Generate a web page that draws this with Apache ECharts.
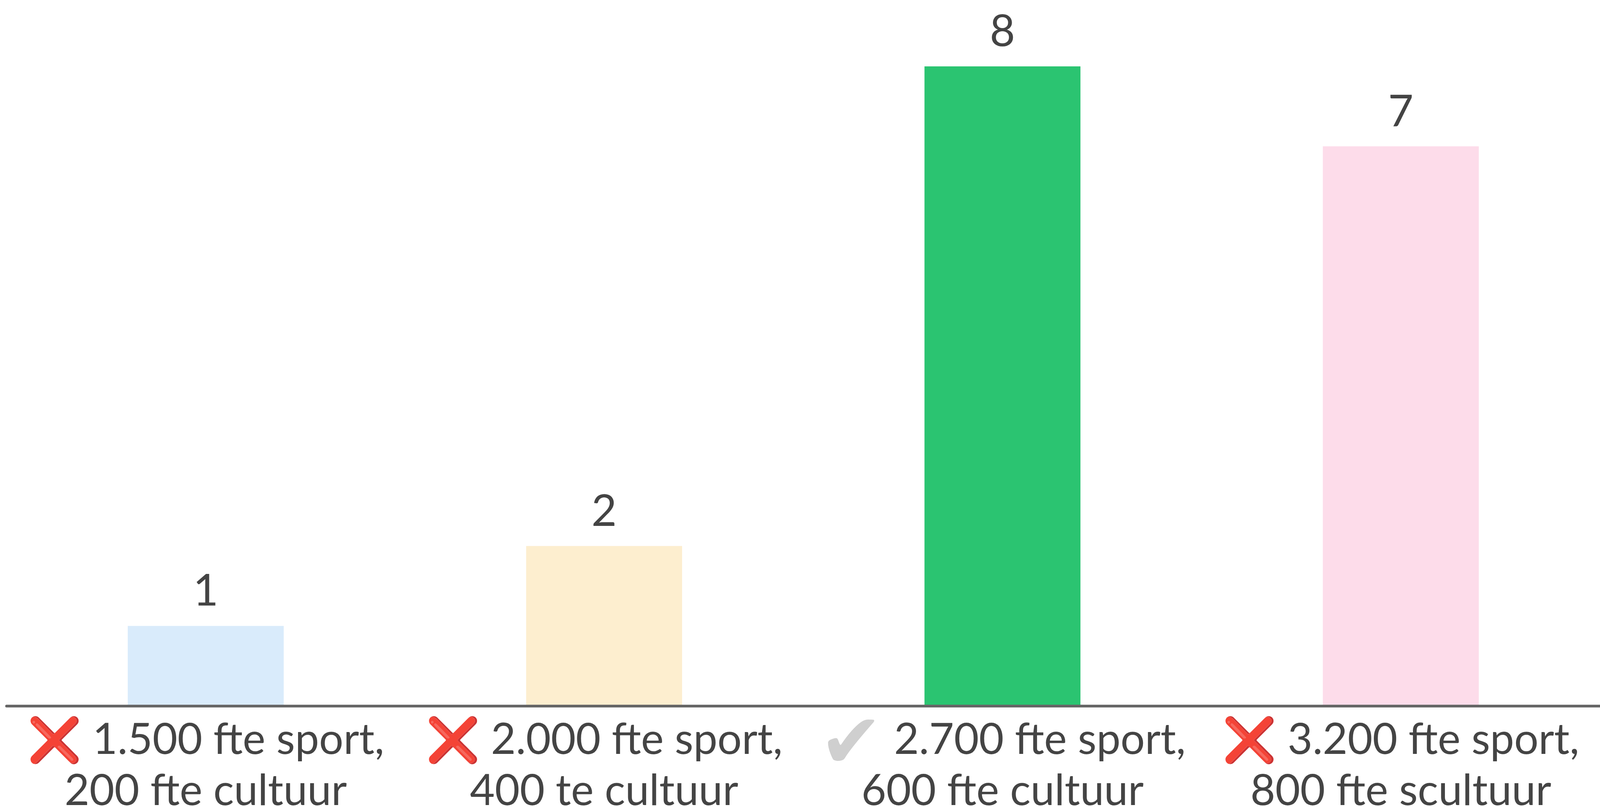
<!DOCTYPE html>
<html><head><meta charset="utf-8">
<style>html,body{margin:0;padding:0;background:#fff;overflow:hidden}#c{width:100vw;height:100vh}</style>
<script src="https://cdn.jsdelivr.net/npm/echarts@6/dist/echarts.min.js"></script>
</head><body><div id="c"></div>
<script>
const marks = ['\u274C', '\u274C', '\u2714', '\u274C'];
const firstLines = ['1.500 fte sport,', '2.000 fte sport,', '2.700 fte sport,', '3.200 fte sport,'];
const secondLines = ['200 fte cultuur', '400 te cultuur', '600 fte cultuur', '800 fte scultuur'];
const categories = firstLines.map((t, i) => i + '');
const values = [1, 2, 8, 7];
const colors = ['#d9ebfb', '#fdeecf', '#2bc471', '#fddcea'];
const font = 'Lato';
const chart = echarts.init(document.getElementById('c'), null, {renderer: 'canvas'});
chart.setOption({
  animation: false,
  backgroundColor: '#fff',
  grid: {left: '0.41%', right: 0, top: 170, bottom: 259, outerBoundsMode: 'none'},
  xAxis: {
    type: 'category', data: categories,
    axisLine: {lineStyle: {color: '#666', width: 7}, onZero: true},
    axisTick: {show: false}, z: 5,
    axisLabel: {
      margin: 22, interval: 0,
      formatter: (v) => {
        const i = +v;
        const tag = marks[i] === '\u274C' ? 'x' : 'c';
        return '{' + tag + '|' + marks[i] + '}{t| ' + firstLines[i] + '}\n{t|' + secondLines[i] + '}';
      },
      rich: {
        t: {fontFamily: font, fontSize: 110, color: '#444', lineHeight: 131},
        x: {fontFamily: 'DejaVu Sans', fontSize: 112, color: '#dd1c1c', lineHeight: 131, verticalAlign: 'bottom'},
        c: {fontFamily: 'DejaVu Sans', fontSize: 195, color: '#cfcfcf', lineHeight: 131, padding: [40, 0, 0, 0]}
      }
    }
  },
  yAxis: {type: 'value', min: 0, max: 8, show: false},
  series: [{
    type: 'bar', barWidth: '39.15%',
    data: values.map((v, i) => ({value: v, itemStyle: {color: colors[i]}})),
    label: {show: true, position: 'top', distance: 32, fontFamily: font, fontSize: 112, color: '#444'}
  }]
});
</script></body></html>
